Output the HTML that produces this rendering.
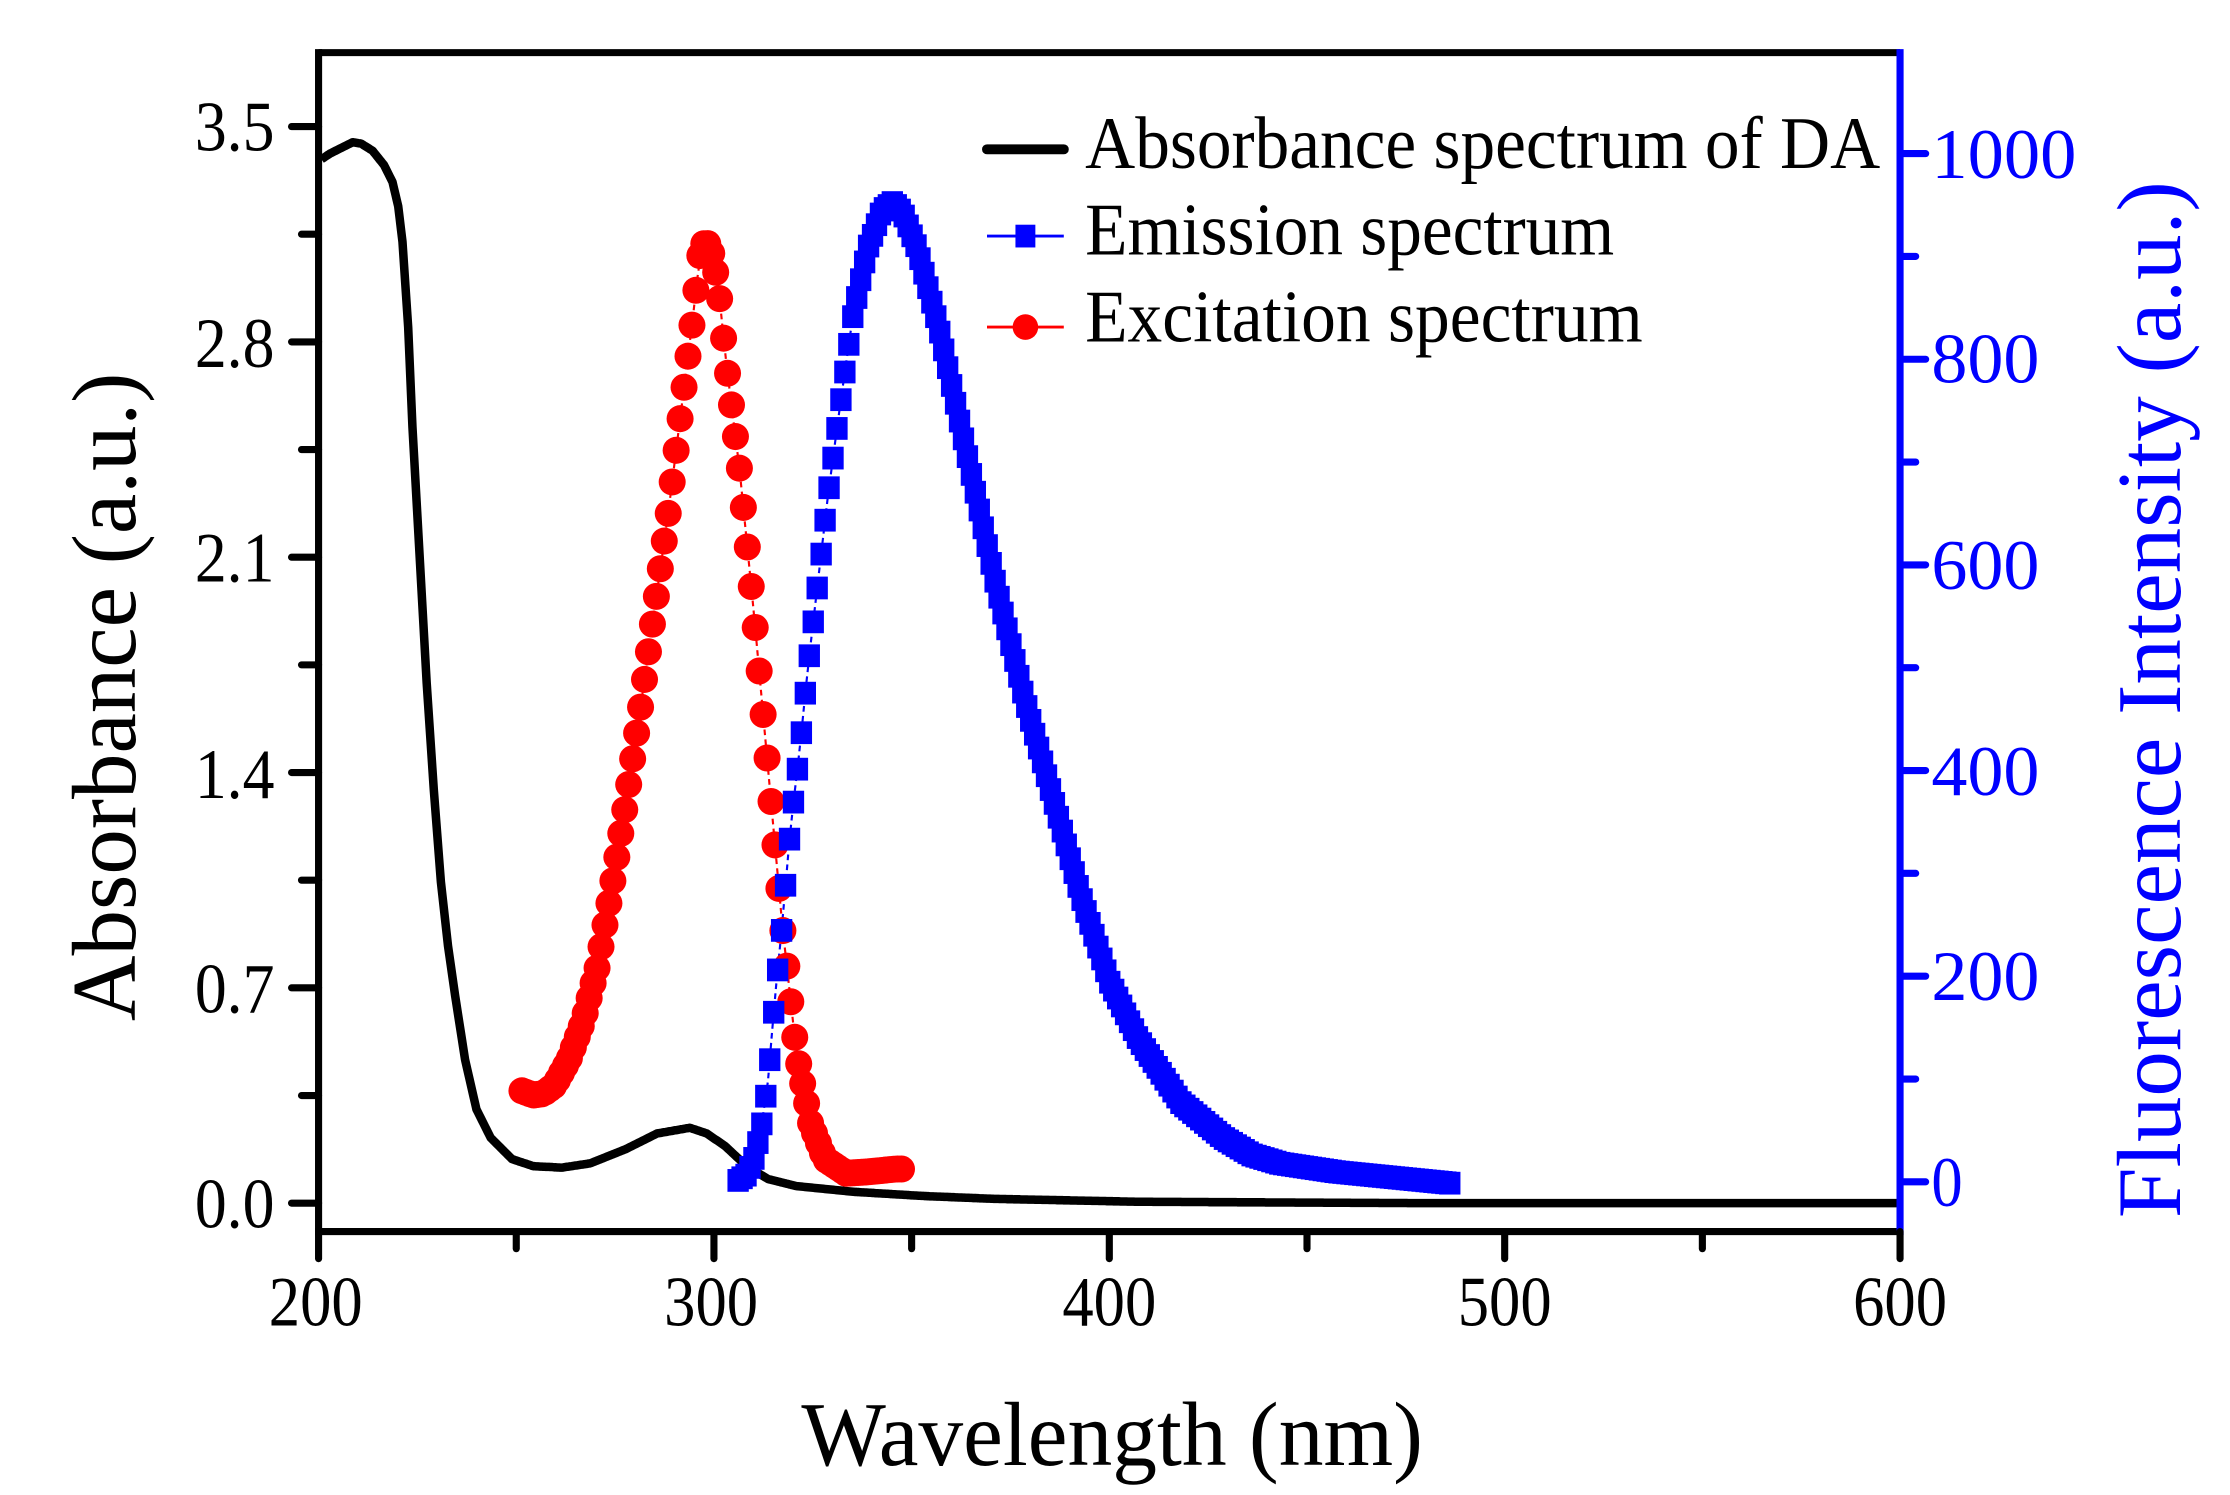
<!DOCTYPE html>
<html><head><meta charset="utf-8"><style>html,body{margin:0;padding:0;background:#fff}svg{display:block}text{font-family:"Liberation Serif","Times New Roman",serif}</style></head>
<body>
<svg id="s" width="2230" height="1495" viewBox="0 0 1568 1051.2" preserveAspectRatio="none" xmlns="http://www.w3.org/2000/svg">
<rect width="1568" height="1052" fill="#fff"/>
<g id="data"></g>
<line x1="224" y1="37" x2="1336" y2="37" stroke="#000" stroke-width="5"/>
<line x1="224" y1="34.5" x2="224" y2="868.5" stroke="#000" stroke-width="5"/>
<line x1="221.5" y1="866" x2="1336" y2="866" stroke="#000" stroke-width="5"/>
<line x1="1336" y1="34.5" x2="1336" y2="868.5" stroke="#0000ff" stroke-width="5"/>
<g id="ticks" stroke-linecap="round"></g>
<g font-size="50" fill="#000" text-anchor="end">
<text x="193" y="863" textLength="56" lengthAdjust="spacingAndGlyphs">0.0</text>
<text x="193" y="712" textLength="56" lengthAdjust="spacingAndGlyphs">0.7</text>
<text x="193" y="561" textLength="56" lengthAdjust="spacingAndGlyphs">1.4</text>
<text x="193" y="409" textLength="56" lengthAdjust="spacingAndGlyphs">2.1</text>
<text x="193" y="258" textLength="56" lengthAdjust="spacingAndGlyphs">2.8</text>
<text x="193" y="106" textLength="56" lengthAdjust="spacingAndGlyphs">3.5</text>
</g>
<g font-size="50" fill="#000" text-anchor="middle">
<text x="222" y="932" textLength="66" lengthAdjust="spacingAndGlyphs">200</text>
<text x="500" y="932" textLength="66" lengthAdjust="spacingAndGlyphs">300</text>
<text x="780" y="932" textLength="66" lengthAdjust="spacingAndGlyphs">400</text>
<text x="1058" y="932" textLength="66" lengthAdjust="spacingAndGlyphs">500</text>
<text x="1336" y="932" textLength="66" lengthAdjust="spacingAndGlyphs">600</text>
</g>
<g font-size="50" fill="#0000ff">
<text x="1358" y="848" textLength="22" lengthAdjust="spacingAndGlyphs">0</text>
<text x="1358" y="703" textLength="76" lengthAdjust="spacingAndGlyphs">200</text>
<text x="1358" y="559" textLength="76" lengthAdjust="spacingAndGlyphs">400</text>
<text x="1358" y="414" textLength="76" lengthAdjust="spacingAndGlyphs">600</text>
<text x="1358" y="269" textLength="76" lengthAdjust="spacingAndGlyphs">800</text>
<text x="1358" y="125" textLength="102" lengthAdjust="spacingAndGlyphs">1000</text>
</g>
<text x="782" y="1030" font-size="64" text-anchor="middle" textLength="437" lengthAdjust="spacingAndGlyphs">Wavelength (nm)</text>
<text transform="translate(95,490) rotate(-90)" font-size="64" text-anchor="middle" textLength="456" lengthAdjust="spacingAndGlyphs">Absorbance (a.u.)</text>
<text transform="translate(1533,492) rotate(-90)" font-size="64" fill="#0000ff" text-anchor="middle" textLength="729" lengthAdjust="spacingAndGlyphs">Fluorescence Intensity (a.u.)</text>
<line x1="694" y1="105" x2="748" y2="105" stroke="#000" stroke-width="7" stroke-linecap="round"/>
<text x="763" y="118" font-size="52" textLength="559" lengthAdjust="spacingAndGlyphs">Absorbance spectrum of DA</text>
<line x1="694" y1="166" x2="748" y2="166" stroke="#0000ff" stroke-width="2"/>
<rect x="714" y="158" width="14" height="16" fill="#0000ff"/>
<text x="763" y="179" font-size="52" textLength="372" lengthAdjust="spacingAndGlyphs">Emission spectrum</text>
<line x1="694" y1="230" x2="748" y2="230" stroke="#ff0000" stroke-width="2"/>
<circle cx="721" cy="230" r="9" fill="#ff0000"/>
<text x="763" y="240" font-size="52" textLength="392" lengthAdjust="spacingAndGlyphs">Excitation spectrum</text>
</svg>
<script>
var NS="http://www.w3.org/2000/svg";
function el(p,t,a){var e=document.createElementNS(NS,t);for(var k in a)e.setAttribute(k,a[k]);p.appendChild(e);return e;}
var tk=document.getElementById('ticks'),dg=document.getElementById('data');
for(var i=0;i<=10;i++){var y=846-i*75.7;el(tk,'line',{x1:224,x2:i%2?212:205,y1:y,y2:y,stroke:'#000','stroke-width':5});}
for(var i=0;i<=8;i++){var x=224+i*139;el(tk,'line',{x1:x,x2:x,y1:866,y2:i%2?878:885,stroke:'#000','stroke-width':5});}
for(var i=0;i<=10;i++){var y=831-i*72.3;el(tk,'line',{x1:1336,x2:i%2?1347:1354,y1:y,y2:y,stroke:'#0000ff','stroke-width':5});}
function interp(pts,x){for(var i=0;i<pts.length-1;i++){if(x>=pts[i][0]&&x<=pts[i+1][0]){var t=(x-pts[i][0])/(pts[i+1][0]-pts[i][0]);return pts[i][1]+t*(pts[i+1][1]-pts[i][1]);}}return pts[pts.length-1][1];}
var ab=[[226,112],[232,108],[240,104],[248,100],[254,101],[262,106],[270,116],[276,128],[280,145],[283,170],[287,230],[290,300],[295,390],[300,480],[305,555],[310,620],[315,665],[320,700],[327,745],[335,780],[345,800],[360,815],[375,820],[395,821],[415,818],[440,808],[462,797],[485,793],[497,797],[510,806],[525,820],[540,829],[560,834],[600,838],[650,841],[700,843],[800,845],[1000,846],[1336,846]];
var d='';for(var x=226;x<=1336;x+=1){d+=(x==226?'M':'L')+x+' '+interp(ab,x).toFixed(1);}
var ex=[[367,767],[375,770],[382,769],[390,763],[400,745],[410,718],[420,680],[430,625],[440,565],[450,500],[460,430],[470,360],[480,280],[487,225],[492,180],[496,168],[500,176],[505,200],[510,250],[515,290],[520,330],[530,430],[540,540],[550,650],[560,740],[570,790],[580,815],[595,825],[610,824],[630,822]];
var ed='';for(var x=367;x<=630;x+=3){ed+=(x==367?'M':'L')+x+' '+interp(ex,x).toFixed(1);}
el(dg,'path',{d:ed,fill:'none',stroke:'#ff0000','stroke-width':1.5,'stroke-dasharray':'4 3'});
var em=[[519,830],[525,826],[530,815],[535,795],[540,760],[545,700],[550,650],[556,580],[562,530],[568,470],[575,410],[582,350],[590,290],[600,220],[610,175],[620,148],[628,142],[635,150],[645,175],[660,230],[680,320],[700,410],[720,490],[740,560],[760,630],[780,690],[800,730],[830,775],[860,800],[880,812],[900,818],[940,824],[980,828],[1020,832]];
var md='';for(var x=519;x<=1020;x+=3){md+=(x==519?'M':'L')+x+' '+interp(em,x).toFixed(1);}
el(dg,'path',{d:md,fill:'none',stroke:'#0000ff','stroke-width':1.5,'stroke-dasharray':'4 3'});
el(dg,'path',{d:d,fill:'none',stroke:'#000','stroke-width':6,'stroke-linejoin':'round'});
for(var x=367;x<=634;x+=2.78){el(dg,'circle',{cx:x,cy:interp(ex,x),r:9.5,fill:'#ff0000'});}
for(var x=519;x<=1022;x+=2.78){var y=interp(em,x);el(dg,'rect',{x:x-7.5,y:y-8,width:15,height:16,fill:'#0000ff'});}
</script>
</body></html>
